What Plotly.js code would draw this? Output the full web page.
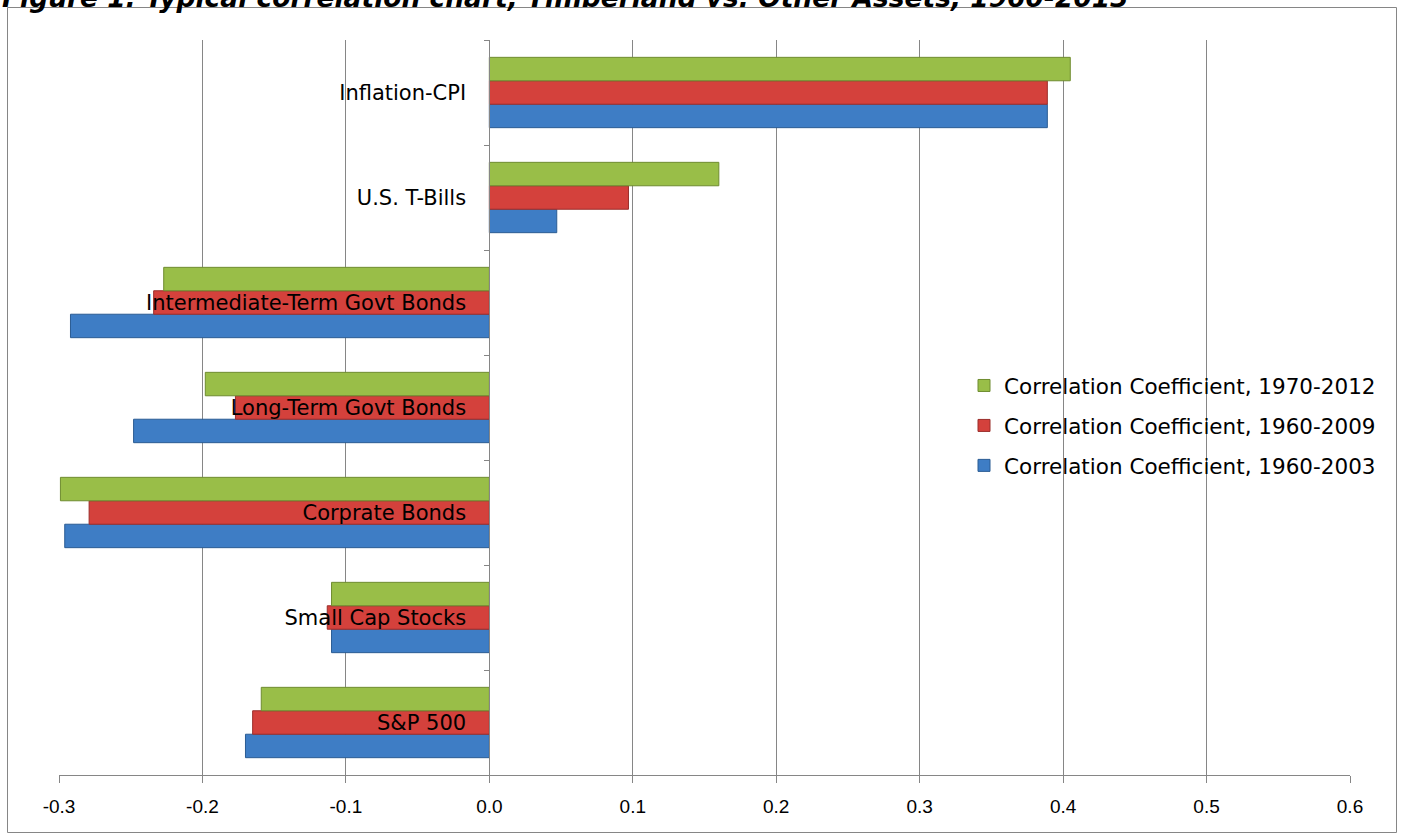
<!DOCTYPE html>
<html>
<head>
<meta charset="utf-8">
<script src="https://cdn.plot.ly/plotly-3.0.1.min.js"></script>
<style>
html,body{margin:0;padding:0;background:#fff;}
#chart{width:1401px;height:834px;}
</style>
</head>
<body>
<div id="chart"></div>
<script>
var categories = ["S&P 500", "Small Cap Stocks", "Corprate Bonds", "Long-Term Govt Bonds",
                  "Intermediate-Term Govt Bonds", "U.S. T-Bills", "Inflation-CPI"];
var seriesNames = ["Correlation Coefficient, 1960-2003",
                   "Correlation Coefficient, 1960-2009",
                   "Correlation Coefficient, 1970-2012"];
var corr1960_2003 = [-0.170, -0.110, -0.296, -0.248, -0.292, 0.047, 0.389];
var corr1960_2009 = [-0.165, -0.113, -0.279, -0.177, -0.234, 0.097, 0.389];
var corr1970_2012 = [-0.159, -0.110, -0.299, -0.198, -0.227, 0.160, 0.405];
var xTicks = [-0.3, -0.2, -0.1, 0.0, 0.1, 0.2, 0.3, 0.4, 0.5, 0.6];
var titleText = "Figure 1: Typical correlation chart, Timberland vs. Other Assets, 1960-2013";

var seriesValues = [corr1960_2003, corr1960_2009, corr1970_2012];
var fills = ["#3E7DC5", "#D4413C", "#99BE48"];
var edges = ["#2B5C93", "#9A2E2B", "#6F8C30"];
var ranks = [3, 2, 1];

var traces = seriesValues.map(function (vals, i) {
  return {
    type: "bar",
    orientation: "h",
    name: seriesNames[i],
    y: categories,
    x: vals,
    legendgroup: "g" + i,
    legendrank: ranks[i],
    marker: {color: fills[i], line: {color: edges[i], width: 1}},
    hoverinfo: "x+name"
  };
});

var L = 59, R = 51, T = 40, B = 59, W = 1401, H = 834;
var pw = W - L - R, ph = H - T - B;
function px2x(p) { return (p - L) / pw; }
function py2y(p) { return 1 - (p - T) / ph; }

var tickText = xTicks.map(function (v) { return v.toFixed(1); });

var layout = {
  width: W, height: H,
  margin: {l: L, r: R, t: T, b: B, pad: 0},
  paper_bgcolor: "#ffffff",
  plot_bgcolor: "#ffffff",
  font: {family: "DejaVu Sans, Verdana, sans-serif", size: 21, color: "#000"},
  barmode: "group",
  bargap: 0.33,
  bargroupgap: 0,
  xaxis: {
    range: [-0.3, 0.6],
    tickvals: xTicks,
    ticktext: tickText,
    showgrid: true, gridcolor: "#868686", gridwidth: 1,
    zeroline: false,
    showline: true, linecolor: "#868686", linewidth: 1,
    ticks: "outside", ticklen: 7, tickcolor: "#868686",
    ticklabelstandoff: 7,
    tickfont: {family: "Liberation Sans Narrow, Liberation Sans, Arial Narrow, sans-serif", size: 19, color: "#000"},
    fixedrange: true
  },
  yaxis: {
    type: "category",
    categoryorder: "array",
    categoryarray: categories,
    anchor: "free",
    position: 1/3,
    showgrid: false,
    zeroline: false,
    showline: true, linecolor: "#868686", linewidth: 1,
    ticks: "outside", ticklen: 5, tickcolor: "#868686",
    tickson: "boundaries",
    ticklabelstandoff: 19,
    tickfont: {family: "DejaVu Sans, Verdana, sans-serif", size: 21, color: "#000"},
    fixedrange: true
  },
  showlegend: true,
  legend: {
    traceorder: "grouped",
    tracegroupgap: 9,
    x: px2x(964), xanchor: "left",
    y: py2y(365), yanchor: "top",
    bgcolor: "rgba(255,255,255,0)",
    itemwidth: 30,
    font: {family: "DejaVu Sans, Verdana, sans-serif", size: 21.5, color: "#000"}
  },
  annotations: [{
    text: "<b><i>" + titleText + "</i></b>",
    xref: "paper", yref: "paper",
    x: px2x(0), xanchor: "left",
    y: py2y(15), yanchor: "bottom",
    showarrow: false,
    font: {family: "DejaVu Sans, Verdana, sans-serif", size: 26.5, color: "#000"}
  }],
  shapes: [{
    type: "rect", xref: "paper", yref: "paper", layer: "below",
    x0: px2x(7.5), x1: px2x(1396.5), y0: py2y(832.5), y1: py2y(7.5),
    line: {color: "#868686", width: 1}, fillcolor: "rgba(0,0,0,0)"
  }]
};

Plotly.newPlot("chart", traces, layout, {displayModeBar: false, staticPlot: true});
</script>
</body>
</html>
